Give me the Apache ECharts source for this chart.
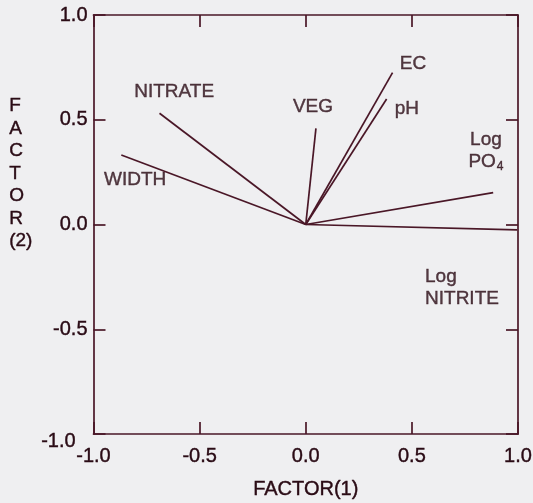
<!DOCTYPE html>
<html>
<head>
<meta charset="utf-8">
<script src="https://cdn.jsdelivr.net/npm/echarts@6/dist/echarts.min.js"></script>
<style>
html,body{margin:0;padding:0;background:#efeff1;width:100%;height:100%;overflow:hidden;}
#c{position:absolute;left:0;top:0;width:533px;height:503px;}
</style>
</head>
<body>
<div id="c"></div>
<script>
// ---- data ----
var variables = ['WIDTH', 'NITRATE', 'VEG', 'EC', 'pH', 'Log PO4', 'Log NITRITE'];
var factor1 = [-0.869, -0.689, 0.048, 0.409, 0.381, 0.883, 0.996];
var factor2 = [0.332, 0.531, 0.459, 0.725, 0.599, 0.152, -0.026];
var labelX = [-0.804, -0.62, 0.034, 0.505, 0.476, 0.849, 0.562];
var labelY = [0.212, 0.632, 0.560, 0.766, 0.551, 0.352, -0.199];
var tickValues = [-1.0, -0.5, 0.0, 0.5, 1.0];

var ink = '#2a0b15';
var lineCol = '#4a1727';
var font = '"Liberation Sans", Arial, sans-serif';

var chart = echarts.init(document.getElementById('c'), null, { width: 533, height: 503 });

var series = [];
variables.forEach(function (v, i) {
  series.push({
    type: 'line',
    xAxisIndex: 0, yAxisIndex: 0,
    data: [[0, 0], [factor1[i], factor2[i]]],
    showSymbol: false,
    symbol: 'none',
    lineStyle: { color: lineCol, width: 1.7 },
    silent: true,
    animation: false
  });
});

var labelData = variables.map(function (v, i) {
  return { value: [labelX[i], labelY[i]], name: v };
});

function labelFmt(p) {
  var n = p.name;
  if (n === 'Log PO4') return 'Log\n{b|PO}{s|4}';
  if (n === 'Log NITRITE') return 'Log\nNITRITE';
  return n;
}

var thick = { textBorderColor: ink, textBorderWidth: 0.4 };

series.push({
  type: 'scatter',
  data: labelData,
  symbolSize: 0,
  silent: true,
  animation: false,
  label: Object.assign({
    show: true,
    position: 'inside',
    formatter: labelFmt,
    color: ink,
    fontFamily: font,
    fontSize: 19,
    lineHeight: 22,
    align: 'center',
    rich: {
      b: Object.assign({ fontSize: 19, color: ink, fontFamily: font, lineHeight: 22 }, thick),
      s: Object.assign({ fontSize: 12, color: ink, fontFamily: font, verticalAlign: 'bottom', padding: [8, 0, 0, 1], lineHeight: 22 }, thick)
    }
  }, thick),
  labelLayout: function (params) {
    if (params.dataIndex === 6) {
      return { align: 'left', x: params.rect.x };
    }
    return {};
  }
});

var axisCommon = {
  type: 'value',
  min: -1, max: 1, interval: 0.5,
  axisLine: { show: true, onZero: false, lineStyle: { color: lineCol, width: 1.7 } },
  axisTick: { show: true, inside: true, length: 12, lineStyle: { color: lineCol, width: 1.7 } },
  splitLine: { show: false },
  axisLabel: Object.assign({ show: true, color: ink, fontFamily: font, fontSize: 20,
    formatter: function (v) { return v.toFixed(1); } }, thick)
};

var option = {
  backgroundColor: '#efeff1',
  animation: false,
  grid: { left: 93.5, right: 15, top: 15, bottom: 69, containLabel: false, outerBoundsMode: 'none' },
  xAxis: [
    Object.assign({}, axisCommon, {
      position: 'bottom',
      name: 'FACTOR(1)', nameLocation: 'middle', nameGap: 45,
      nameTextStyle: Object.assign({ color: ink, fontFamily: font, fontSize: 20 }, thick),
      axisLabel: Object.assign({}, axisCommon.axisLabel, { margin: 12 })
    }),
    Object.assign({}, axisCommon, { position: 'top', axisLabel: { show: false } })
  ],
  yAxis: [
    Object.assign({}, axisCommon, {
      position: 'left',
      axisLabel: Object.assign({}, axisCommon.axisLabel, { margin: 6,
        formatter: function (v) { return v === -1 ? '' : v.toFixed(1); } })
    }),
    Object.assign({}, axisCommon, { position: 'right', axisLabel: { show: false } })
  ],
  graphic: [
    { type: 'text', left: 9, top: 95,
      style: { text: 'F\nA\nC\nT\nO\nR\n(2)', fill: ink, stroke: ink, lineWidth: 0.4, font: '19px ' + font, lineHeight: 22.5, textAlign: 'left' } },
    { type: 'text', left: 41, top: 431,
      style: { text: '-1.0', fill: ink, stroke: ink, lineWidth: 0.4, font: '20px ' + font } }
  ],
  series: series
};
chart.setOption(option);
</script>
</body>
</html>
